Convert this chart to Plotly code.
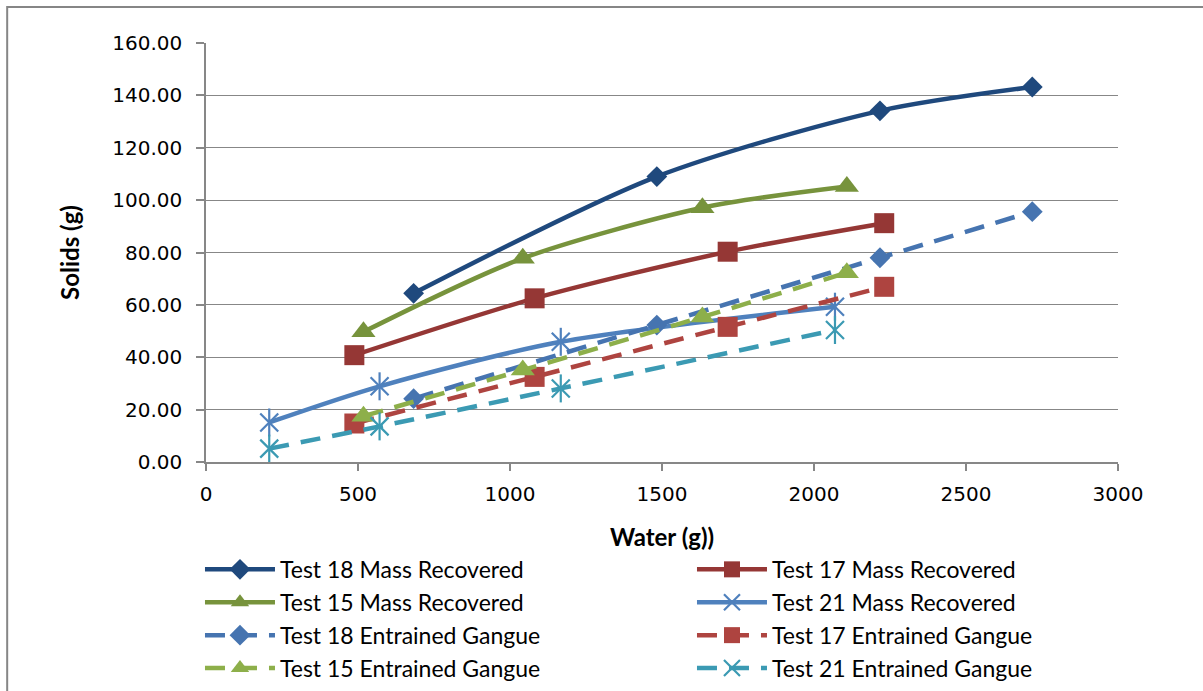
import plotly.graph_objects as go

# Water (g) and solids (g) for each test
t18_water = [683, 1483, 2217, 2718]
t18_mass = [64.4, 109.0, 134.1, 143.2]
t18_gangue = [24.2, 52.3, 78.0, 95.6]

t17_water = [488, 1081, 1716, 2231]
t17_mass = [40.8, 62.5, 80.3, 91.2]
t17_gangue = [14.7, 32.5, 51.6, 66.9]

t15_water = [518, 1042, 1633, 2108]
t15_mass = [49.7, 77.8, 97.1, 105.2]
t15_gangue = [17.5, 35.1, 55.4, 72.3]

t21_water = [208, 571, 1167, 2069]
t21_mass = [15.1, 28.9, 45.9, 59.3]
t21_gangue = [5.1, 13.6, 28.1, 50.4]

y_ticks = [0, 20, 40, 60, 80, 100, 120, 140, 160]
x_ticks = [0, 500, 1000, 1500, 2000, 2500, 3000]

DASH = "20px,12px"
GRID = "#878787"

# name, x, y, colour, marker symbol, marker size, dash
series = [
    ("Test 18 Mass Recovered", t18_water, t18_mass, "#1F497D", "diamond", 16, "solid"),
    ("Test 17 Mass Recovered", t17_water, t17_mass, "#953735", "square", 20, "solid"),
    ("Test 15 Mass Recovered", t15_water, t15_mass, "#77933C", "triangle-up", 21, "solid"),
    ("Test 21 Mass Recovered", t21_water, t21_mass, "#4F81BD", "star6", 18, "solid"),
    ("Test 18 Entrained Gangue", t18_water, t18_gangue, "#4674B0", "diamond", 16, DASH),
    ("Test 17 Entrained Gangue", t17_water, t17_gangue, "#AE4440", "square", 20, DASH),
    ("Test 15 Entrained Gangue", t15_water, t15_gangue, "#8DAF4A", "triangle-up", 21, DASH),
    ("Test 21 Entrained Gangue", t21_water, t21_gangue, "#3B9AB3", "star6", 18, DASH),
]

fig = go.Figure()
for name, xs, ys, color, symbol, size, dash in series:
    if symbol == "star6":
        # six-armed star: an open X plus a vertical bar drawn on top
        marker = dict(symbol="x-thin-open", size=size, color=color,
                      line=dict(color=color, width=2.2))
    else:
        marker = dict(symbol=symbol, size=size, color=color, line=dict(width=0))
    fig.add_trace(go.Scatter(
        x=xs, y=ys, name=name, mode="lines+markers", legendgroup=name,
        line=dict(color=color, width=4.5, dash=dash, shape="spline", smoothing=0.8),
        marker=marker,
    ))
    if symbol == "star6":
        fig.add_trace(go.Scatter(
            x=xs, y=ys, mode="markers", showlegend=False, legendgroup=name,
            hoverinfo="skip",
            marker=dict(symbol="line-ns-open", size=size + 2, color=color,
                        line=dict(color=color, width=2.2)),
        ))

fig.update_layout(
    width=1203, height=691,
    paper_bgcolor="white", plot_bgcolor="white",
    margin=dict(l=206, r=85, t=43, b=229, autoexpand=False),
    font=dict(family="DejaVu Sans", color="#000000"),
    xaxis=dict(
        range=[0, 3000], tickvals=x_ticks, ticktext=[str(v) for v in x_ticks],
        showgrid=False, zeroline=False,
        showline=True, linecolor=GRID, linewidth=1.5,
        ticks="outside", ticklen=7, tickcolor=GRID, tickwidth=1.5,
        ticklabelstandoff=6,
        tickfont=dict(family="DejaVu Sans", size=20, color="#000000"),
        title=dict(text="<b>Water (g))</b>", standoff=24,
                   font=dict(family="Lato", size=24, color="#000000")),
    ),
    yaxis=dict(
        range=[0, 160], tickvals=y_ticks, ticktext=[f"{v:.2f}" for v in y_ticks],
        showgrid=True, gridcolor=GRID, gridwidth=1.3, zeroline=False,
        showline=True, linecolor=GRID, linewidth=1.5,
        ticks="outside", ticklen=8, tickcolor=GRID, tickwidth=1.5,
        ticklabelstandoff=10,
        tickfont=dict(family="DejaVu Sans", size=20, color="#000000"),
        title=dict(text="<b>Solids (g)</b>", standoff=26,
                   font=dict(family="Lato", size=24, color="#000000")),
    ),
    legend=dict(
        orientation="h", x=-0.0066, xanchor="left", y=-0.205, yanchor="top",
        itemwidth=70, entrywidth=407, entrywidthmode="pixels",
        font=dict(family="Lato", size=23, color="#000000"),
        bgcolor="rgba(0,0,0,0)", traceorder="normal",
    ),
    shapes=[dict(
        type="rect", xref="paper", yref="paper",
        x0=-0.218, x1=1.3, y0=-1.0, y1=1.086,
        line=dict(color="#868686", width=2), layer="below",
    )],
)

fig.write_html("out.html")
